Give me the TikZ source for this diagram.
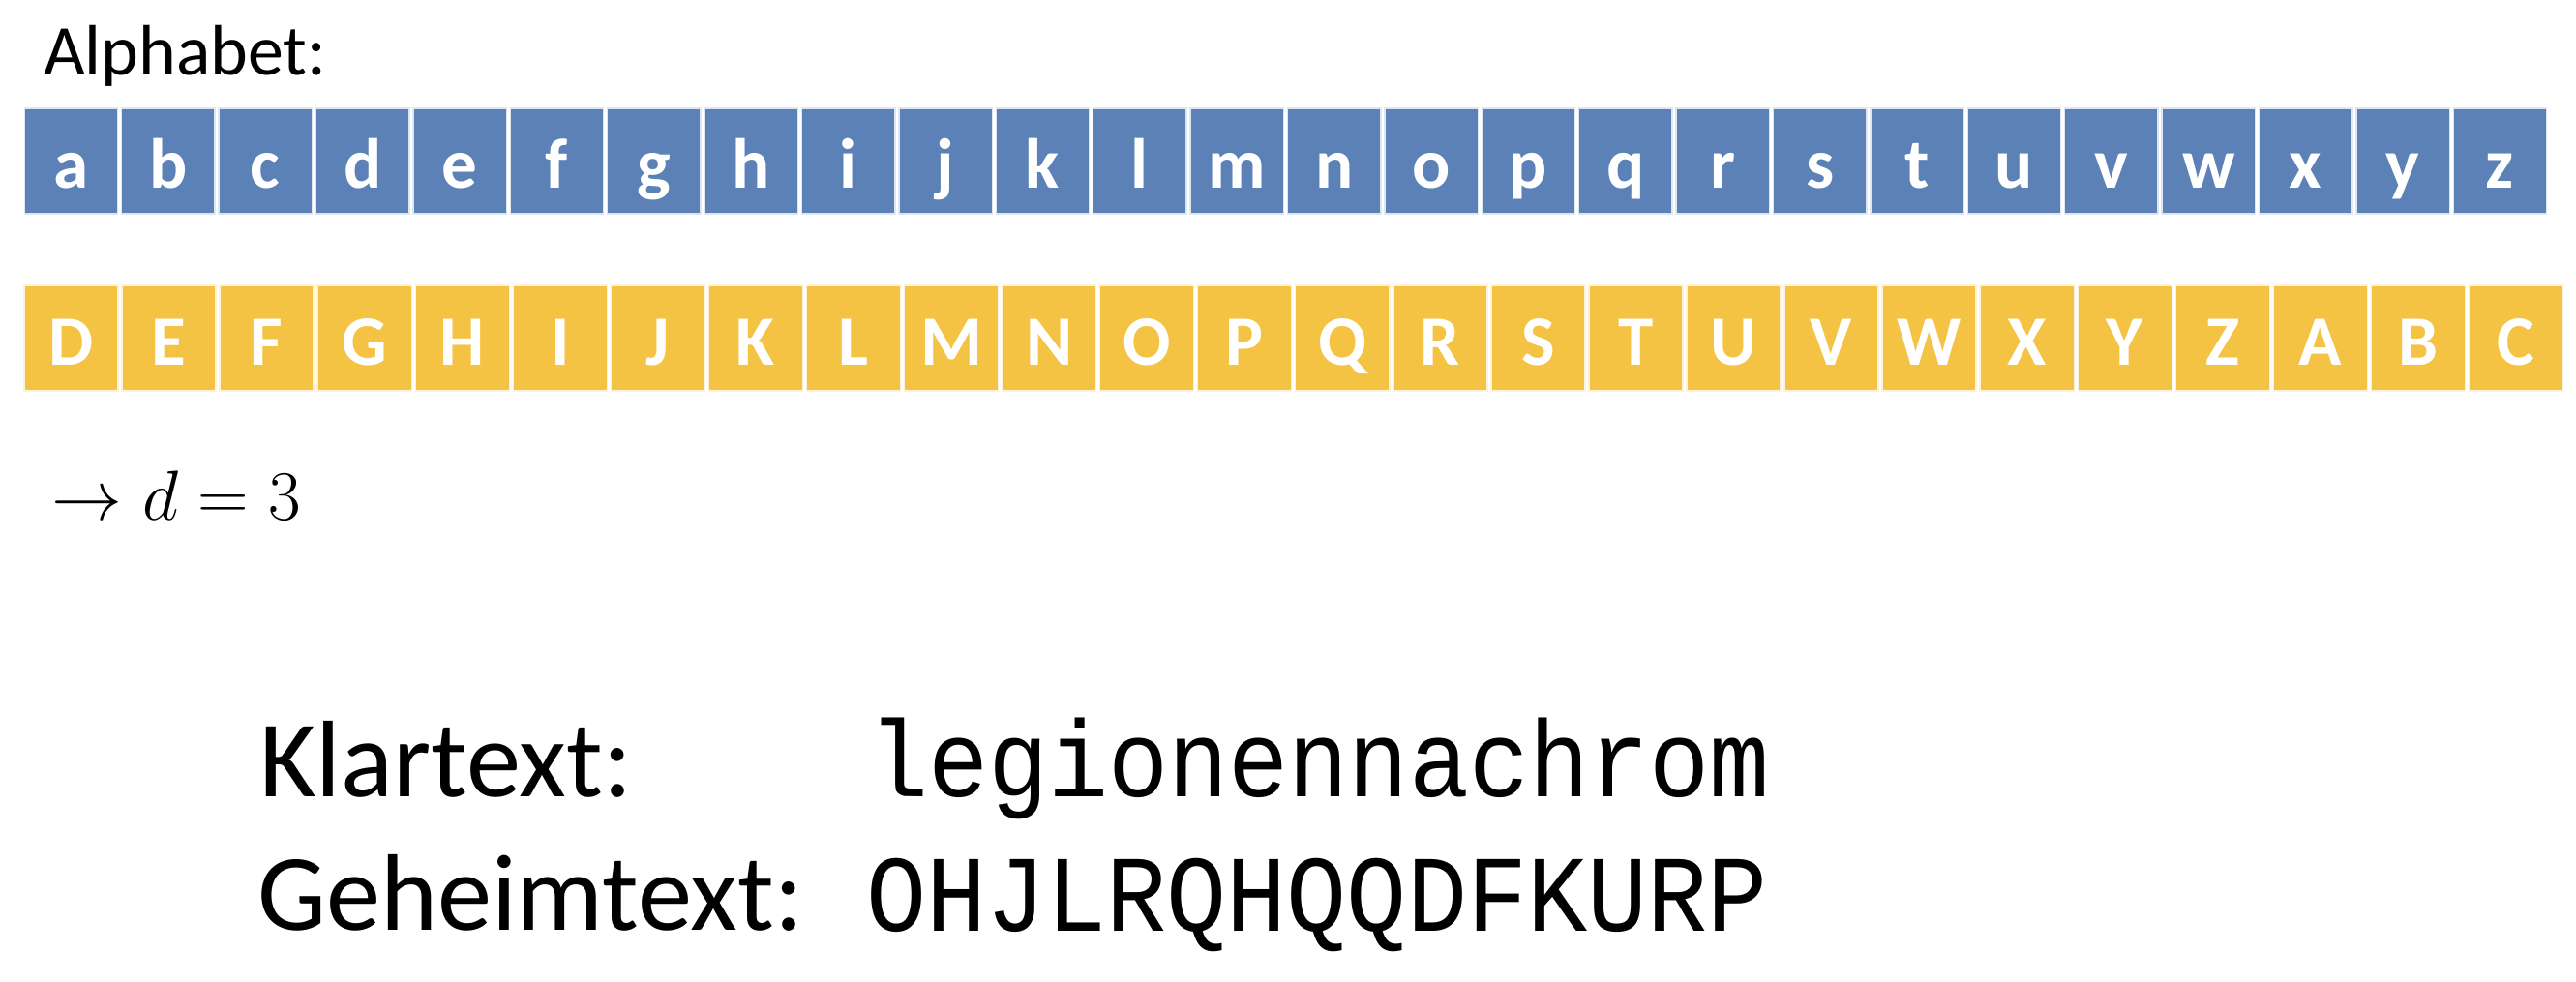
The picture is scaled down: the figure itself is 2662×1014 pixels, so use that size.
\documentclass[tikz,border=0pt]{standalone}
\usepackage{fontspec}
\setmainfont{Carlito}
\newfontfamily\codefont[FakeStretch=0.92]{Liberation Mono}
\definecolor{plainblue}{RGB}{91,129,183}
\definecolor{cipheryellow}{RGB}{245,195,67}
\begin{document}
\begin{tikzpicture}
  [x=0.01cm,y=-0.01cm,every node/.style={inner sep=0pt,outer sep=0pt}]
  \tikzstyle{letterbox} = [line width=0.4pt,text=white,
    font=\fontsize{20.8}{25}\selectfont\bfseries,text height=0.55cm,text depth=0cm]
  \tikzstyle{plainbox} = [letterbox,fill=plainblue,draw=white!80!plainblue,
    minimum width=0.965cm,minimum height=1.09cm]
  \tikzstyle{cipherbox} = [letterbox,fill=cipheryellow,draw=white!80!cipheryellow,
    minimum width=0.97cm,minimum height=1.09cm]
  \tikzstyle{bigtext} = [anchor=base west,font=\fontsize{32}{40}\selectfont]
  \tikzstyle{codetext} = [anchor=base west,font=\codefont\fontsize{32}{40}\selectfont]
  \useasboundingbox (0,0) rectangle (2662,1014);
  \node[anchor=base west,font=\fontsize{21}{25}\selectfont] (alpha) at (45,77) {Alphabet:};
  % plain and shifted alphabet
  \foreach \ch [count=\i from 0] in {a,...,z}
    \node[plainbox] (p\i) at (73.5+100.4*\i,166.5) {\ch};
  \foreach \ch [count=\i from 0] in {D,E,F,G,H,I,J,K,L,M,N,O,P,Q,R,S,T,U,V,W,X,Y,Z,A,B,C}
    \node[cipherbox] (c\i) at (73.5+101.06*\i,349.5) {\ch};
  \node[anchor=base west,font=\fontsize{22}{26}\selectfont] (shift) at (54,537)
    {$\rightarrow d = 3$};
  % example text
  \node[bigtext] (klar) at (268,823) {Klartext:};
  \node[bigtext] (geheim) at (266,961) {Geheimtext:};
  \node[codetext] (klarval) at (897,823) {legionennachrom};
  \node[codetext] (geheimval) at (895,962) {OHJLRQHQQDFKURP};
\end{tikzpicture}
\end{document}
